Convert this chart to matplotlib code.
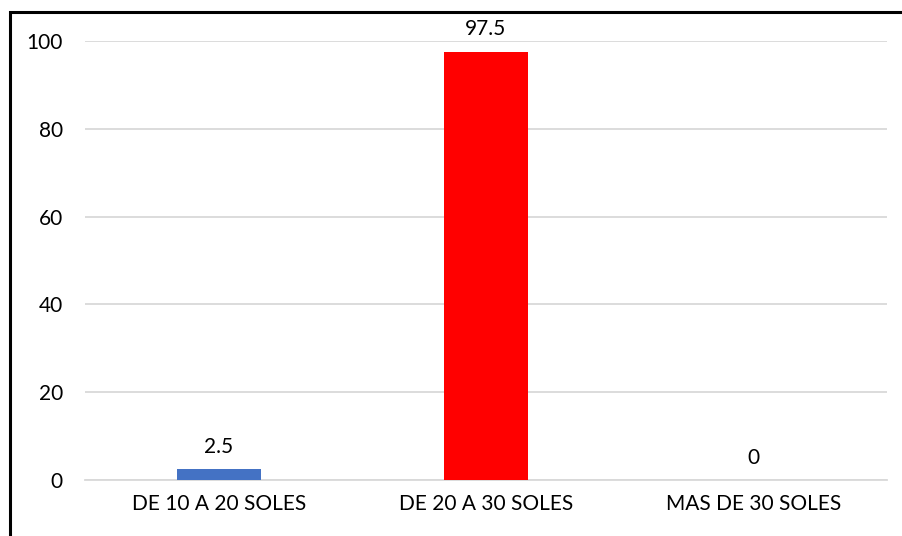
import matplotlib.pyplot as plt
from matplotlib.patches import Rectangle

# data
categories = ["DE 10 A 20 SOLES", "DE 20 A 30 SOLES", "MAS DE 30 SOLES"]
values = [2.5, 97.5, 0]
bar_colors = ["#4472C4", "#FF0000", "#A5A5A5"]
labels = ["2.5", "97.5", "0"]

plt.rcParams['font.family'] = ['Lato', 'DejaVu Sans']

W, H = 902, 536
fig = plt.figure(figsize=(W/100, H/100), dpi=100)
ax = fig.add_axes([85/W, 1-480/H, 802/W, (480-41)/H])

x = range(len(categories))
bars = ax.bar(x, values, width=0.315, color=bar_colors, zorder=3)
for i, b in enumerate(bars):
    ax.annotate(labels[i], (b.get_x()+b.get_width()/2, values[i]),
                xytext=(0, 9), textcoords='offset points',
                ha='center', va='bottom', fontsize=15, color='#000000')

ax.set_xlim(-0.5, 2.5)
ax.set_ylim(0, 100)
ax.set_yticks([0, 20, 40, 60, 80, 100])
ax.set_xticks(list(x))
ax.set_xticklabels(categories, fontsize=15)
ax.tick_params(axis='y', labelsize=15, length=0, pad=16)
ax.tick_params(axis='x', length=0, pad=10)
ax.yaxis.grid(True, color='#D9D9D9', linewidth=1.3, zorder=0)
for s in ['top', 'right', 'left']:
    ax.spines[s].set_visible(False)
ax.spines['bottom'].set_color('#D9D9D9')
ax.spines['bottom'].set_linewidth(1.3)
ax.spines['bottom'].set_zorder(2)

# border around the chart
fig.add_artist(Rectangle((10/W, -0.1), 1.2, 1.1-12/H, transform=fig.transFigure,
                         fill=False, edgecolor='black', linewidth=2.2))

fig.savefig("out.png", dpi=100)
